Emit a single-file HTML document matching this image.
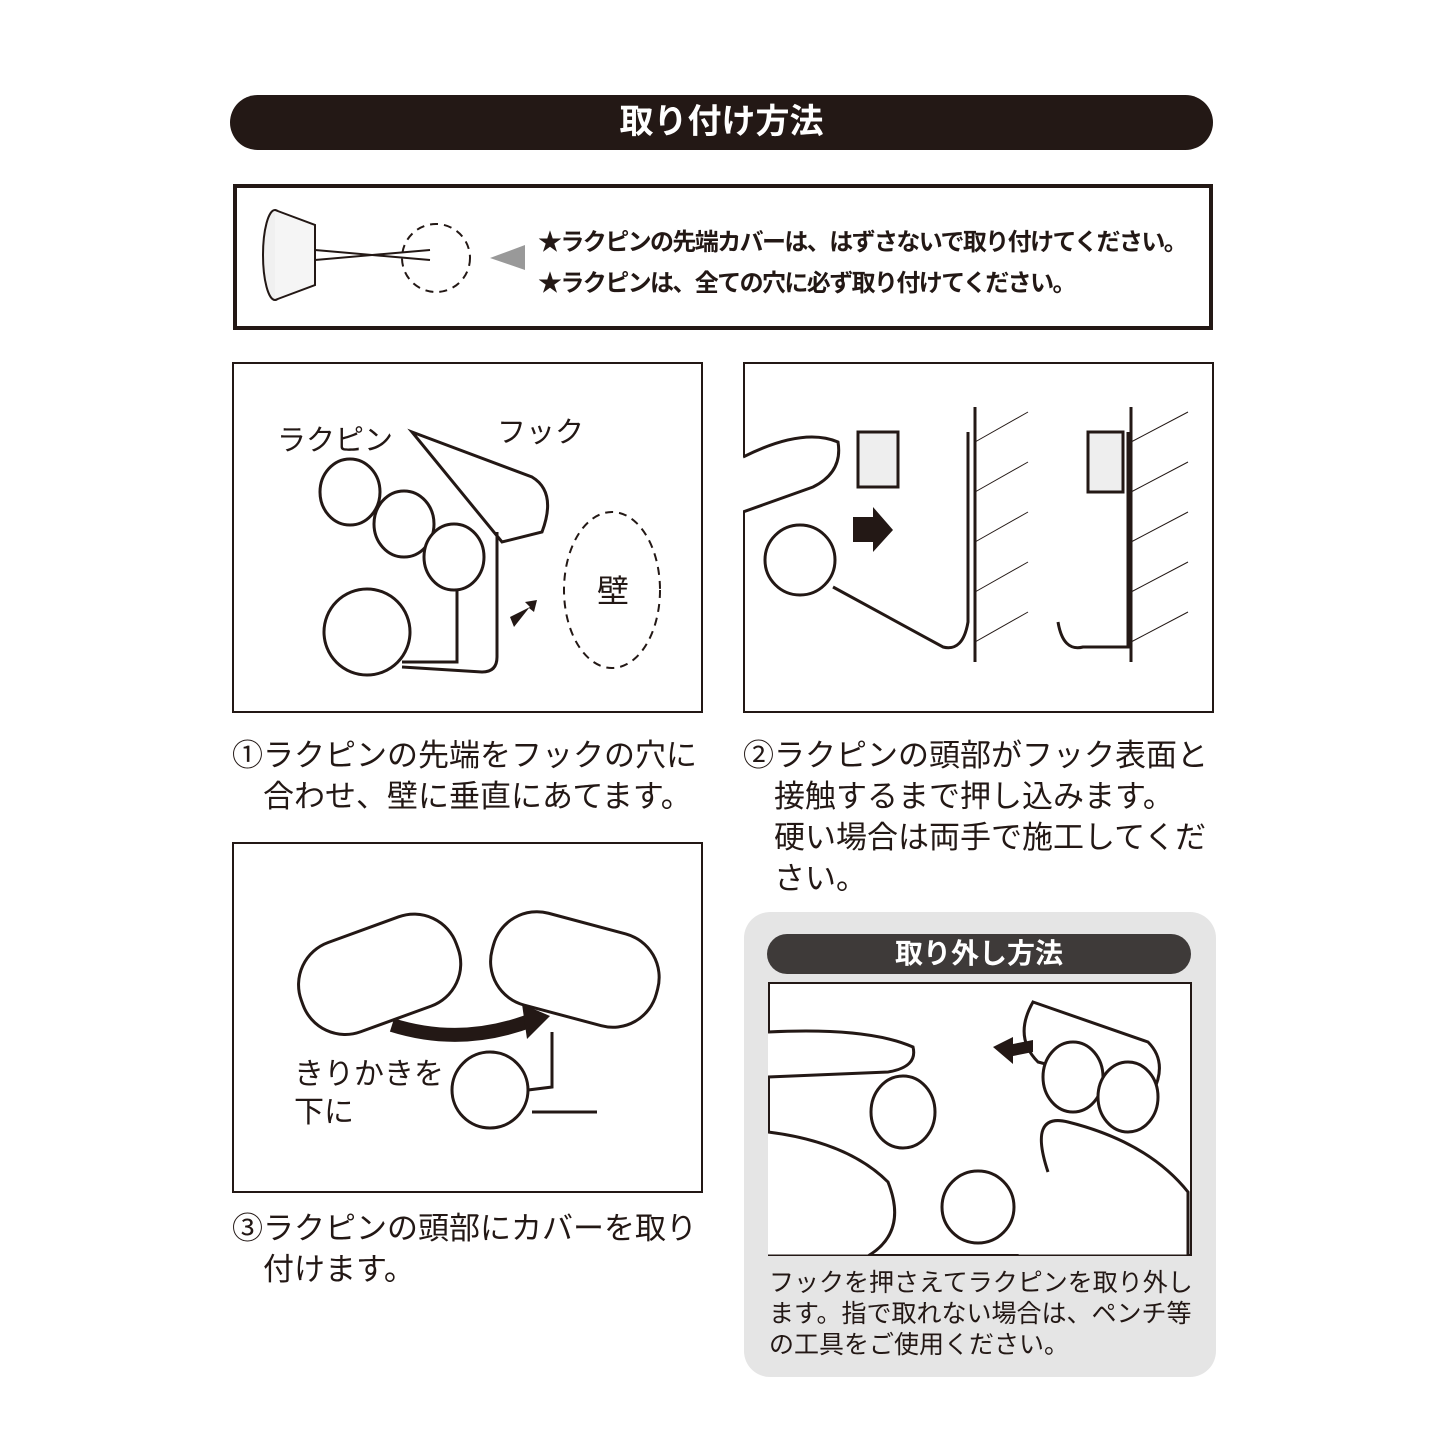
<!DOCTYPE html>
<html><head><meta charset="utf-8"><style>
body{margin:0;background:#fff;}
.c{position:relative;width:1445px;height:1445px;overflow:hidden;font-family:"Liberation Sans","Noto Sans CJK JP",sans-serif;color:#231815;}
.a{position:absolute;}
.pill{background:#231815;color:#fff;font-weight:bold;text-align:center;border-radius:30px;}
.box{border:2px solid #231815;background:#fff;box-sizing:border-box;}
.cap{font-size:31px;line-height:41px;white-space:nowrap;}
</style></head><body><div class="c">
<div class="a pill" style="left:230px;top:95px;width:983px;height:55px;line-height:55px;font-size:34px;">取り付け方法</div>
<div class="a" style="left:233px;top:184px;width:980px;height:146px;border:4px solid #231815;box-sizing:border-box;"></div>
<div class="a" style="left:538px;top:222px;font-size:24px;letter-spacing:-1.6px;font-weight:bold;line-height:41px;white-space:nowrap;">★ラクピンの先端カバーは、はずさないで取り付けてください。<br>★ラクピンは、全ての穴に必ず取り付けてください。</div>
<svg class="a" style="left:240px;top:190px" width="300" height="130">
<ellipse cx="35" cy="65" rx="12" ry="45" fill="#f0f0f0" stroke="#231815" stroke-width="2"/>
<path d="M35 20 L75 35 L75 95 L35 110" fill="#f5f5f5" stroke="#231815" stroke-width="2"/>
<line x1="75" y1="60" x2="190" y2="70" stroke="#231815" stroke-width="2"/><line x1="75" y1="70" x2="190" y2="60" stroke="#231815" stroke-width="2"/>
<circle cx="196" cy="68" r="34" fill="none" stroke="#231815" stroke-width="2" stroke-dasharray="8 6"/>
<polygon points="285,55 285,80 250,68" fill="#999"/>
</svg>
<div class="a box" style="left:232px;top:362px;width:471px;height:351px;"></div>
<div class="a box" style="left:743px;top:362px;width:471px;height:351px;"></div>
<svg class="a" style="left:232px;top:362px" width="471" height="351">
<text x="45" y="88" font-size="29" fill="#231815" font-family="Liberation Sans,Noto Sans CJK JP">ラクピン</text>
<text x="265" y="80" font-size="29" fill="#231815" font-family="Liberation Sans,Noto Sans CJK JP">フック</text>
<path d="M180 70 L300 115 Q325 130 310 170 L270 180 Z" fill="#fff" stroke="#231815" stroke-width="3"/>
<path d="M225 170 L225 300 L170 300" fill="none" stroke="#231815" stroke-width="3"/>
<path d="M265 170 L265 295 Q265 310 250 310 L170 305" fill="none" stroke="#231815" stroke-width="3"/>
<circle cx="135" cy="270" r="43" fill="#fff" stroke="#231815" stroke-width="3"/>
<ellipse cx="118" cy="130" rx="30" ry="33" fill="#fff" stroke="#231815" stroke-width="3"/>
<ellipse cx="172" cy="162" rx="30" ry="33" fill="#fff" stroke="#231815" stroke-width="3"/>
<ellipse cx="222" cy="195" rx="30" ry="33" fill="#fff" stroke="#231815" stroke-width="3"/>
<ellipse cx="380" cy="228" rx="48" ry="78" fill="none" stroke="#231815" stroke-width="2" stroke-dasharray="8 6"/>
<text x="365" y="240" font-size="32" fill="#231815" font-family="Liberation Sans,Noto Sans CJK JP">壁</text>
<polygon points="278,255 298,245 293,240 305,238 302,250 297,246 282,265" fill="#231815"/>
</svg>
<svg class="a" style="left:743px;top:362px" width="471" height="351">
<path d="M0 95 Q60 65 95 80 Q100 110 70 125 L0 150" fill="#fff" stroke="#231815" stroke-width="3"/>
<circle cx="57" cy="198" r="35" fill="#fff" stroke="#231815" stroke-width="3"/>
<path d="M90 225 L200 285 Q220 290 225 260 L225 70" fill="none" stroke="#231815" stroke-width="3"/>
<rect x="115" y="70" width="40" height="55" fill="#eee" stroke="#231815" stroke-width="3"/>
<polygon points="110,155 130,155 130,145 150,168 130,190 130,180 110,180" fill="#231815"/>
<line x1="232" y1="45" x2="232" y2="300" stroke="#231815" stroke-width="3"/>
<line x1="388" y1="45" x2="388" y2="300" stroke="#231815" stroke-width="3"/>
<g stroke="#231815" stroke-width="1">
<line x1="232" y1="80" x2="285" y2="50"/><line x1="232" y1="130" x2="285" y2="100"/><line x1="232" y1="180" x2="285" y2="150"/><line x1="232" y1="230" x2="285" y2="200"/><line x1="232" y1="280" x2="285" y2="250"/>
<line x1="388" y1="80" x2="445" y2="50"/><line x1="388" y1="130" x2="445" y2="100"/><line x1="388" y1="180" x2="445" y2="150"/><line x1="388" y1="230" x2="445" y2="200"/><line x1="388" y1="280" x2="445" y2="250"/></g>
<rect x="345" y="70" width="35" height="60" fill="#eee" stroke="#231815" stroke-width="3"/>
<path d="M315 260 Q320 290 340 285 L385 285 L385 70" fill="none" stroke="#231815" stroke-width="3"/>
</svg>
<div class="a cap" style="left:232px;top:735px;">①ラクピンの先端をフックの穴に<br>　合わせ、壁に垂直にあてます。</div>
<div class="a cap" style="left:743px;top:735px;">②ラクピンの頭部がフック表面と<br>　接触するまで押し込みます。<br>　硬い場合は両手で施工してくだ<br>　さい。</div>
<div class="a box" style="left:232px;top:842px;width:471px;height:351px;"></div>
<svg class="a" style="left:232px;top:842px" width="471" height="351">
<rect x="65" y="85" width="165" height="95" rx="45" transform="rotate(-20 147 132)" fill="#fff" stroke="#231815" stroke-width="3"/>
<rect x="258" y="80" width="170" height="95" rx="45" transform="rotate(15 343 127)" fill="#fff" stroke="#231815" stroke-width="3"/>
<path d="M160 183 Q230 205 300 178" fill="none" stroke="#231815" stroke-width="14"/>
<polygon points="290,162 318,174 295,197" fill="#231815"/>
<path d="M280 250 L320 245 L320 190 M300 270 L365 270" fill="none" stroke="#231815" stroke-width="3"/>
<circle cx="258" cy="248" r="38" fill="#fff" stroke="#231815" stroke-width="3"/>
<text x="62" y="242" font-size="30" fill="#231815" font-family="Liberation Sans,Noto Sans CJK JP">きりかきを</text>
<text x="62" y="280" font-size="30" fill="#231815" font-family="Liberation Sans,Noto Sans CJK JP">下に</text>
</svg>
<div class="a cap" style="left:232px;top:1208px;">③ラクピンの頭部にカバーを取り<br>　付けます。</div>
<div class="a" style="left:744px;top:912px;width:472px;height:465px;background:#e5e5e5;border-radius:26px;"></div>
<div class="a pill" style="left:767px;top:934px;width:424px;height:40px;line-height:40px;font-size:28px;background:#3e3a39;">取り外し方法</div>
<div class="a box" style="left:768px;top:982px;width:424px;height:274px;"></div>
<svg class="a" style="left:768px;top:982px" width="424" height="274">
<path d="M0 50 Q100 45 145 65 Q150 85 120 90 L0 95" fill="#fff" stroke="#231815" stroke-width="3"/>
<path d="M265 20 L380 60 Q400 80 385 110 L270 80 Q245 55 265 20Z" fill="#fff" stroke="#231815" stroke-width="3"/>
<ellipse cx="305" cy="95" rx="30" ry="35" fill="#fff" stroke="#231815" stroke-width="3"/>
<ellipse cx="360" cy="115" rx="30" ry="35" fill="#fff" stroke="#231815" stroke-width="3"/>
<polygon points="225,65 245,55 245,62 265,58 265,70 245,74 245,82" fill="#231815"/>
<ellipse cx="135" cy="130" rx="32" ry="36" fill="#fff" stroke="#231815" stroke-width="3"/>
<path d="M0 150 Q80 160 120 200 Q140 250 100 274 L0 274" fill="#fff" stroke="#231815" stroke-width="3"/>
<path d="M280 190 Q260 130 300 140 Q380 160 420 210 L420 274 L250 274" fill="#fff" stroke="#231815" stroke-width="3"/>
<circle cx="210" cy="225" r="36" fill="#fff" stroke="#231815" stroke-width="3"/>
</svg>
<div class="a" style="left:769px;top:1268px;font-size:25px;line-height:31px;white-space:nowrap;">フックを押さえてラクピンを取り外し<br>ます。指で取れない場合は、ペンチ等<br>の工具をご使用ください。</div>
</div></body></html>
